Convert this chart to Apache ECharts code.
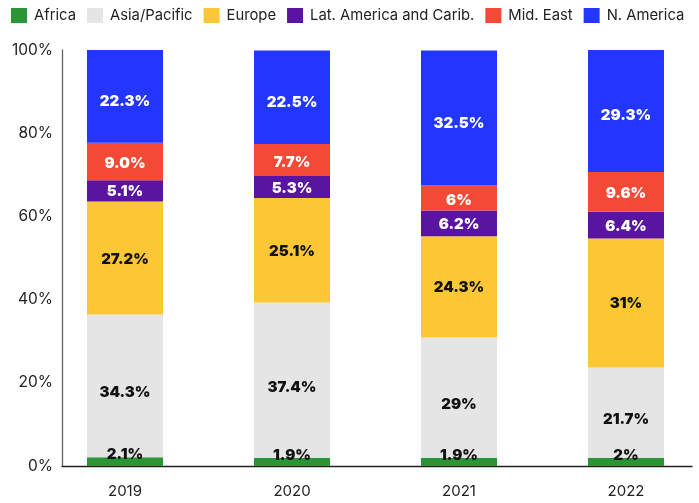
<!DOCTYPE html>
<html>
<head>
<meta charset="utf-8">
<script src="https://cdn.jsdelivr.net/npm/echarts@6/dist/echarts.min.js"></script>
<style>
  html, body { margin: 0; padding: 0; background: #fff; }
  #chart { width: 699px; height: 503px; }
</style>
</head>
<body>
<div id="chart"></div>
<script>
// years on the x axis
const years = ["2019", "2020", "2021", "2022"];

// shares in percent, kept as text so labels read like the original ("9.0%")
const africa = ["2.1", "1.9", "1.9", "2"];
const asiaPacific = ["34.3", "37.4", "29", "21.7"];
const europe = ["27.2", "25.1", "24.3", "31"];
const latAmerica = ["5.1", "5.3", "6.2", "6.4"];
const midEast = ["9.0", "7.7", "6", "9.6"];
const nAmerica = ["22.3", "22.5", "32.5", "29.3"];

const yTicks = [0, 20, 40, 60, 80, 100];

const font = "Inter, 'Liberation Sans', sans-serif";

const chart = echarts.init(document.getElementById("chart"));

function makeSeries(name, vals, color, textColor, labelOpt) {
  return {
    name: name,
    type: "bar",
    stack: "total",
    xAxisIndex: 0,
    yAxisIndex: 0,
    barWidth: 76,
    itemStyle: { color: color },
    data: vals.map(Number),
    label: Object.assign({
      show: true,
      position: "inside",
      color: textColor,
      fontFamily: font,
      fontWeight: 900,
      fontSize: 15,
      formatter: (p) => vals[p.dataIndex] + "%",
    }, labelOpt || {}),
  };
}

let options = {
  animation: false,
  legend: {
    left: 6,
    top: 3,
    icon: "rect",
    itemWidth: 16,
    itemHeight: 15,
    itemGap: 11,
    textStyle: {
      fontFamily: font,
      fontSize: 14.8,
      color: "#222",
      padding: [0, 0, 0, 2],
    },
  },
  grid: [
    // bar grid is wider than the axis frame so the bars sit where the original puts them
    { left: 41.5, width: 668, top: 50, bottom: 37, outerBoundsMode: "none", containLabel: false },
    { left: 62, right: 7, top: 50, bottom: 37, outerBoundsMode: "none" },
  ],
  xAxis: [
    {
      type: "category",
      gridIndex: 0,
      data: years,
      axisLine: { show: false },
      axisTick: { show: false },
      axisLabel: {
        margin: 18,
        fontFamily: font,
        fontSize: 15,
        color: "#222",
      },
    },
    {
      type: "category",
      gridIndex: 1,
      data: years,
      axisLine: { lineStyle: { color: "#222", width: 1.3 } },
      axisTick: { show: false },
      axisLabel: { show: false },
    },
  ],
  yAxis: [
    {
      type: "value",
      gridIndex: 0,
      min: 0,
      max: 100,
      show: false,
    },
    {
      type: "value",
      gridIndex: 1,
      min: yTicks[0],
      max: yTicks[yTicks.length - 1],
      interval: 20,
      axisLine: { show: true, lineStyle: { color: "#666", width: 1.3 } },
      axisTick: { show: false },
      splitLine: { show: false },
      axisLabel: {
        margin: 9,
        fontFamily: font,
        fontSize: 15.5,
        color: "#222",
        formatter: "{value}%",
      },
    },
  ],
  series: [
    makeSeries("Africa", africa, "#2a9535", "#111", { position: "top", distance: -5 }),
    makeSeries("Asia/Pacific", asiaPacific, "#e5e5e5", "#111", { offset: [0, 7] }),
    makeSeries("Europe", europe, "#fbc734", "#111", { offset: [0, 1] }),
    makeSeries("Lat. America and Carib.", latAmerica, "#5a15a0", "#fff", { offset: [0, 1] }),
    makeSeries("Mid. East", midEast, "#f44a35", "#fff", { offset: [0, 2] }),
    makeSeries("N. America", nAmerica, "#2336ff", "#fff", { offset: [0, 5] }),
  ],
};

chart.setOption(options);
</script>
</body>
</html>
